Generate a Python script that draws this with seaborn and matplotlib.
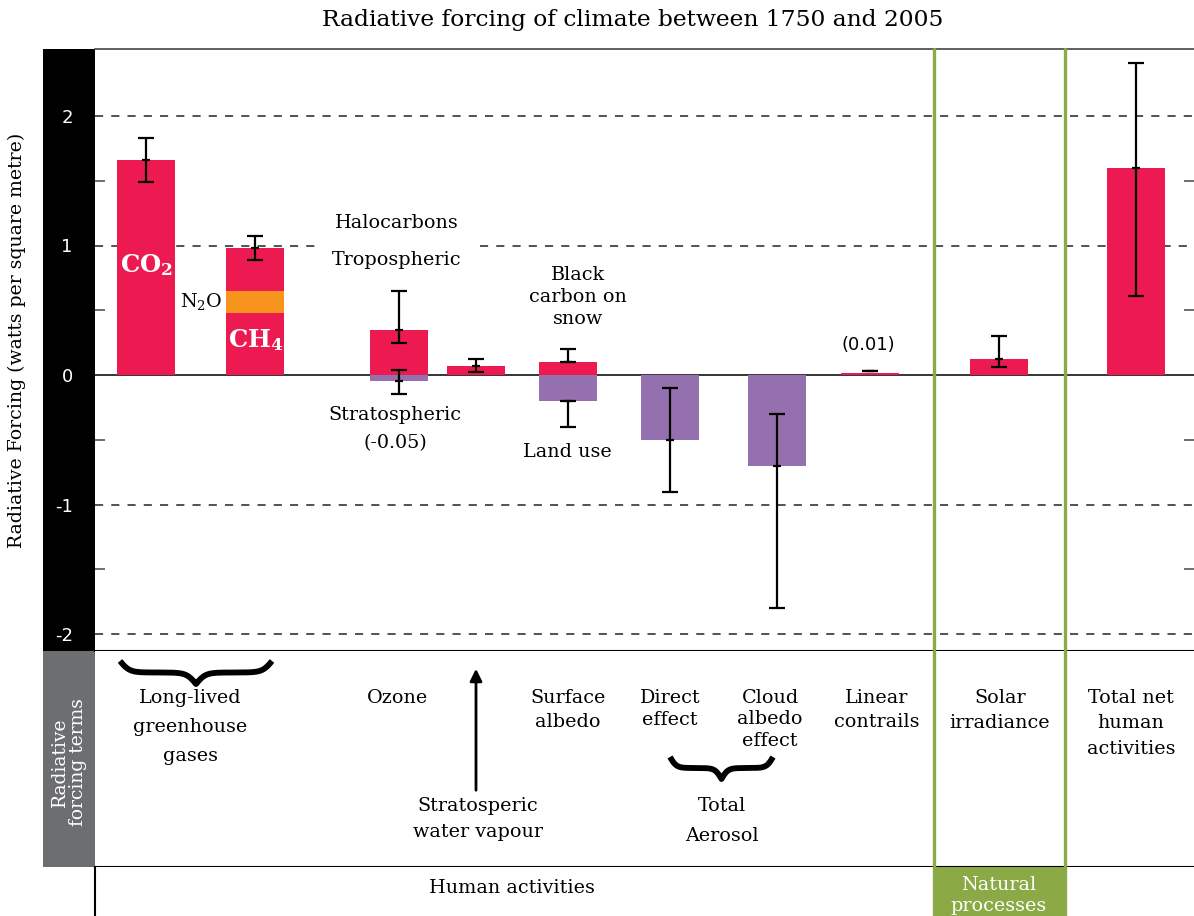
import numpy as np
import pandas as pd
import matplotlib
matplotlib.use("Agg")
import matplotlib.pyplot as plt
from matplotlib.lines import Line2D
from matplotlib.patches import Rectangle
import seaborn as sns

# --- donnees (W/m2) ---
terms = ["CO2", "CH4", "N2O", "Halocarbons", "Tropospheric ozone",
         "Stratospheric ozone", "Stratospheric water vapour",
         "Black carbon on snow", "Land use", "Direct effect",
         "Cloud albedo effect", "Linear contrails", "Solar irradiance",
         "Total net human activities"]
values = [1.66, 0.48, 0.17, 0.33, 0.35, -0.05, 0.07, 0.10, -0.20, -0.50,
          -0.70, 0.015, 0.12, 1.60]
err_mid = [1.66, np.nan, np.nan, 0.98, 0.35, -0.05, 0.07, 0.10, -0.20,
           -0.50, -0.70, 0.03, 0.12, 1.60]
err_low = [1.49, np.nan, np.nan, 0.89, 0.25, -0.15, 0.02, 0.10, -0.40,
           -0.90, -1.80, 0.03, 0.06, 0.61]
err_high = [1.83, np.nan, np.nan, 1.07, 0.65, 0.04, 0.12, 0.20, -0.20,
            -0.10, -0.30, 0.03, 0.30, 2.41]
y_ticks = [-2, -1, 0, 1, 2]
y_tick_labels = ["-2", "-1", "0", "1", "2"]

# --- mise en page (pixels de la figure) ---
W, H = 1194, 916
col_x = {"CO2": 146, "CH4": 255, "N2O": 255, "Halocarbons": 255,
         "Tropospheric ozone": 399, "Stratospheric ozone": 399,
         "Stratospheric water vapour": 476, "Black carbon on snow": 568,
         "Land use": 568, "Direct effect": 670, "Cloud albedo effect": 777,
         "Linear contrails": 870, "Solar irradiance": 999,
         "Total net human activities": 1136}
BAR_W = 58
RED, PURPLE, ORANGE = "#EC1A50", "#9470AE", "#F7941D"
GREEN, GREY = "#8BAA45", "#6D6E71"
palette = {t: (PURPLE if v < 0 else RED) for t, v in zip(terms, values)}
palette["N2O"] = ORANGE

sns.set_style("white")
plt.rcParams["font.family"] = ["DejaVu Serif"]
plt.rcParams["text.color"] = "black"
plt.rcParams["mathtext.fontset"] = "dejavuserif"
plt.rcParams["mathtext.default"] = "regular"
plt.rcParams["axes.unicode_minus"] = False


def fx(x):
    return x / W


def fy(y):
    return 1 - y / H


def label(x, y, s, size=13.8, **kw):
    fig.text(fx(x), fy(y), s, ha="center", va="center", fontsize=size, **kw)


def brace(axe, x0, x1, ytop, depth):
    xh = np.linspace(0, 0.5, 200)
    beta = 32
    yh = 1 / (1 + np.exp(-beta * xh)) + 1 / (1 + np.exp(-beta * (xh - 0.5)))
    yy = np.concatenate([yh, yh[::-1]]) - 0.5
    xx = x0 + (x1 - x0) * np.concatenate([xh, 1 - xh[::-1]])
    axe.plot(xx, ytop + depth * yy, color="black", lw=4.2,
             solid_capstyle="butt")


fig = plt.figure(figsize=(W / 100, H / 100), dpi=100)

# bandeaux de gauche
fig.add_artist(Rectangle((fx(43), fy(651)), 52 / W, 602 / H,
                         transform=fig.transFigure, facecolor="black",
                         edgecolor="none", zorder=-1))
fig.add_artist(Rectangle((fx(43), fy(867)), 52 / W, 216 / H,
                         transform=fig.transFigure, facecolor=GREY,
                         edgecolor="none", zorder=-1))

ax = fig.add_axes([fx(95), fy(651), (W - 95) / W, (651 - 49) / H])
ax_lab = fig.add_axes([fx(95), fy(867), (W - 95) / W, (867 - 651) / H])
ax_grp = fig.add_axes([fx(95), fy(916), (W - 95) / W, (916 - 867) / H])

# --- barres ---
df = pd.DataFrame({"term": terms, "value": values, "mid": err_mid,
                   "low": err_low, "high": err_high})
df["x"] = df["term"].map(col_x)
df["sign"] = np.sign(df["value"])
df["top"] = df.groupby(["x", "sign"])["value"].cumsum()
df["rank"] = df.groupby("x")["top"].transform(
    lambda s: s.abs().rank(ascending=False, method="first"))

for r in sorted(df["rank"].unique()):
    sub = df[df["rank"] == r]
    xs = np.unique(sub["x"])
    nw = np.diff(xs).min() if len(xs) > 1 else 1
    sns.barplot(data=sub, x="x", y="top", hue="term", palette=palette,
                native_scale=True, width=BAR_W / nw, dodge=False,
                saturation=1, legend=False, errorbar=None, linewidth=0,
                orient="x", zorder=2, ax=ax)

e = df.dropna(subset=["mid"])
ax.errorbar(e["x"], e["mid"], yerr=[e["mid"] - e["low"], e["high"] - e["mid"]],
            fmt="_", color="black", ecolor="black", elinewidth=1.6,
            capsize=5.5, capthick=1.6, markersize=6, mew=1.6, zorder=4)

# --- axes ---
ax.set_xlim(95, W)
ax.set_ylim((375 - 651) / 129.5, (375 - 49) / 129.5)
ax.set_xticks([])
ax.set_xlabel("")
ax.set_ylabel("")
ax.set_yticks(y_ticks)
ax.set_yticklabels(y_tick_labels, color="white", fontsize=13,
                   family="DejaVu Sans")
ax.tick_params(axis="y", which="major", length=0, pad=16)
ax.set_yticks([-1.5, -0.5, 0.5, 1.5], minor=True)
ax.tick_params(axis="y", which="minor", direction="in", length=7, width=1.2,
               color="#555555", left=True, right=True)
for s in ["left", "right"]:
    ax.spines[s].set_visible(False)
ax.spines["top"].set_color("#444444")
ax.spines["top"].set_linewidth(1.2)
ax.spines["bottom"].set_color("black")
ax.spines["bottom"].set_linewidth(1.5)

dash = dict(colors="#444444", linestyles=(0, (4.5, 4.5)), lw=1.3, zorder=1)
ax.hlines([2, -1, -2], 95, W, **dash)
ax.hlines([1, 1], [95, 480], [318, W], **dash)
ax.axhline(0, color="black", lw=1.1, zorder=1)

for a, y0, y1 in [(ax_lab, 867, 651), (ax_grp, 916, 867)]:
    a.set_xlim(95, W)
    a.set_ylim(y0, y1)
    a.set_xticks([])
    a.set_yticks([])
    for s in a.spines.values():
        s.set_visible(False)
ax_lab.spines["bottom"].set_visible(True)
ax_lab.spines["bottom"].set_color("black")
ax_lab.spines["bottom"].set_linewidth(1.5)
ax_grp.spines["left"].set_visible(True)
ax_grp.spines["left"].set_color("black")
ax_grp.spines["left"].set_linewidth(1.5)
ax_grp.add_patch(Rectangle((934, 867), 131, 49, facecolor=GREEN,
                           edgecolor="none", zorder=3))

brace(ax_lab, 120, 272, 661, 23)
brace(ax_lab, 670, 773, 757, 22)
ax_lab.annotate("", xy=(476, 666), xytext=(476, 793),
                arrowprops=dict(arrowstyle="-|>", color="black", lw=2,
                                mutation_scale=18))

for xg in [934, 1065]:
    fig.add_artist(Line2D([fx(xg), fx(xg)], [fy(49), fy(916)],
                          transform=fig.transFigure, color=GREEN, lw=2.4,
                          zorder=6))

# --- textes ---
fig.text(fx(633), fy(20), "Radiative forcing of climate between 1750 and 2005",
         ha="center", va="center", fontsize=16.8)
fig.text(fx(17), fy(340), "Radiative Forcing (watts per square metre)",
         rotation=90, ha="center", va="center", fontsize=13.6)
fig.text(fx(69), fy(762), "Radiative\nforcing terms", rotation=90,
         ha="center", va="center", fontsize=13.5, color="white",
         linespacing=0.95)

label(146, 265, r"$\mathbf{CO_2}$", size=17.5, color="white")
label(256, 340, r"$\mathbf{CH_4}$", size=17.5, color="white")
label(201, 301, "N$_2$O")
label(397, 223, "Halocarbons")
label(397, 260, "Tropospheric")
label(395, 415, "Stratospheric")
label(395, 443, "(-0.05)")
label(578, 275, "Black")
label(578, 297, "carbon on")
label(578, 319, "snow")
label(567, 452, "Land use")
label(868, 345, "(0.01)", size=13, family="DejaVu Sans")

bottom_labels = [
    (190, 698, 29, ["Long-lived", "greenhouse", "gases"]),
    (398, 698, 24, ["Ozone"]),
    (568, 698, 24, ["Surface", "albedo"]),
    (670, 698, 22, ["Direct", "effect"]),
    (770, 698, 21.5, ["Cloud", "albedo", "effect"]),
    (877, 698, 24, ["Linear", "contrails"]),
    (1000, 698, 25, ["Solar", "irradiance"]),
    (1131, 698, 25.5, ["Total net", "human", "activities"]),
    (478, 806, 26, ["Stratosperic", "water vapour"]),
    (722, 806, 30, ["Total", "Aerosol"]),
]
for x0, y0, step, lines in bottom_labels:
    for i, s in enumerate(lines):
        label(x0, y0 + i * step, s)

label(512, 888, "Human activities")
label(999, 885, "Natural", color="white")
label(999, 906, "processes", color="white")

fig.savefig("out.png", dpi=100)
